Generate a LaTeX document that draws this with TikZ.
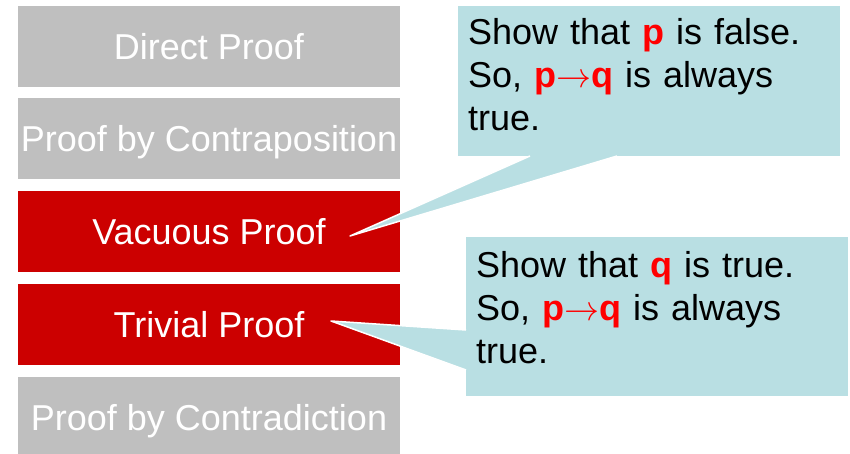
\documentclass[tikz,border=0pt]{standalone}
\usepackage{graphicx}
\usepackage{fontspec}
\setmainfont{Liberation Sans}
\usetikzlibrary{calc}
\definecolor{boxgray}{HTML}{BFBFBF}
\definecolor{boxred}{HTML}{CC0000}
\definecolor{noteblue}{HTML}{B9DFE3}
\definecolor{keyred}{HTML}{FF0000}
\newcommand{\keyterm}[1]{\textcolor{keyred}{\textbf{#1}}}
\newcommand{\keyimp}{\keyterm{p}\textcolor{keyred}{\resizebox{35pt}{!}{$\rightarrow$}}\keyterm{q}}

\begin{document}
\begin{tikzpicture}[
    x=1pt, y=-1pt,
    method/.style={rectangle, minimum width=382pt, minimum height=81pt, inner sep=0pt, outer sep=0pt, text=white, text height=26pt, text depth=0pt, font=\fontsize{36}{43}\selectfont},
    graybox/.style={method, fill=boxgray},
    redbox/.style={method, fill=boxred},
    note/.style={rectangle, fill=noteblue, anchor=north west, minimum width=382pt, text width=362pt, align=left, inner xsep=10pt, inner ysep=0pt, outer sep=0pt, text height=26pt, font=\fontsize{36}{43}\selectfont},
    pointer/.style={fill=noteblue, draw=white, line width=1.5pt, line join=round}
]
\useasboundingbox (0,0) rectangle (850,454);

% Left: proof methods
\node[graybox] (direct) at (209,46.5) {Direct Proof};
\node[graybox] (contrapos) at (209,138.5) {Proof by Contraposition};
\node[redbox] (vacuous) at (209,231.5) {Vacuous Proof};
\node[redbox] (trivial) at (209,324) {Trivial Proof};
\node[graybox] (contradiction) at (209,417.5) {Proof by Contradiction};

% Right: callouts
\node[note, minimum height=150pt, text depth=98pt] (falsenote) at (458,6) {Show that \keyterm{p} is false.\\ So, \keyimp{} is always\\ true.};
\node[note, minimum height=159pt, text depth=105pt] (truenote) at (466,237) {Show that \keyterm{q} is true.\\ So, \keyimp{} is always\\ true.};

% Callout pointers
\coordinate (vtip) at ($(vacuous.center)+(141,4.5)$);
\coordinate (ttip) at ($(trivial.center)+(122,-3)$);
\path[pointer] ($(falsenote.south west)+(72,0)$) -- (vtip) -- ($(falsenote.south west)+(159,0)$);
\path[pointer] ($(truenote.north west)+(0,93)$) -- (ttip) -- ($(truenote.north west)+(0,133)$);

\end{tikzpicture}
\end{document}
